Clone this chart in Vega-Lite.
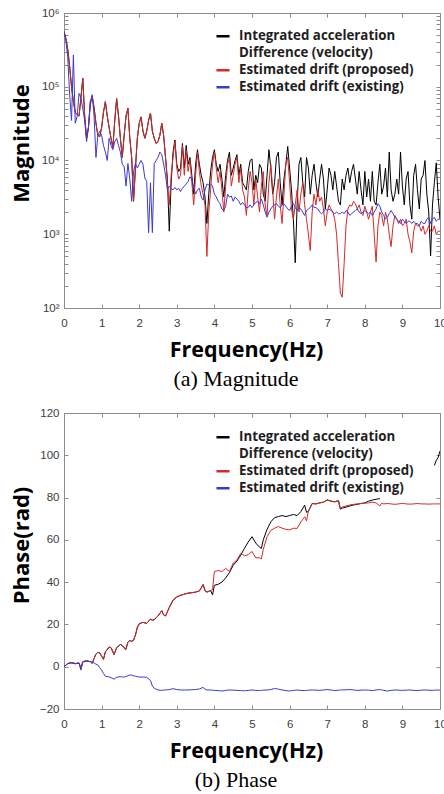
{
  "$schema": "https://vega.github.io/schema/vega-lite/v6.json",
  "padding": {"left": 9, "top": 6, "right": 0, "bottom": 0},
  "bounds": "flush",
  "spacing": 105,
  "config": {
    "view": {"stroke": "#8c8c8c"},
    "axis": {"grid": false, "domain": false, "labelFlush": false, "tickColor": "#8c8c8c", "tickSize": -4, "labelFont": "Liberation Sans", "labelFontSize": 11.5, "labelColor": "#3c3c3c", "titleFont": "Open Sans", "titleFontSize": 21.5, "titleFontWeight": "bold", "titleColor": "#000000"},
    "title": {"font": "Liberation Serif", "fontSize": 22, "fontWeight": "normal", "color": "#000000", "orient": "bottom", "anchor": "middle", "offset": 8, "dx": -16}
  },
  "resolve": {"scale": {"color": "independent"}, "legend": {"color": "independent"}},
  "vconcat": [
    {
      "width": 376,
      "height": 295,
      "title": {"text": "(a) Magnitude"},
      "data": {"values": [
        {"f":0,"a":5.6e5,"r":5.6e5,"b":5.6e5},
        {"f":0.05,"a":4.5e5,"r":4.5e5,"b":4.2e5},
        {"f":0.1,"a":3.2e5,"r":3.2e5,"b":2.5e5},
        {"f":0.15,"a":1.9e5,"r":1.9e5,"b":7.9e4},
        {"f":0.2,"a":1e5,"r":1e5,"b":3.5e4},
        {"f":0.25,"a":6.3e4,"r":6.3e4,"b":2.7e5},
        {"f":0.3,"a":4.5e4,"r":4.5e4,"b":3.2e4},
        {"f":0.35,"a":4.2e4,"r":4.2e4,"b":4e4},
        {"f":0.4,"a":4e4,"r":4e4,"b":8.1e4},
        {"f":0.45,"a":7.1e4,"r":7.1e4,"b":7.1e4},
        {"f":0.5,"a":1.3e5,"r":1.3e5,"b":5e4},
        {"f":0.55,"a":4e4,"r":4e4,"b":3.5e4},
        {"f":0.6,"a":2e4,"r":2e4,"b":1.8e4},
        {"f":0.65,"a":2.8e4,"r":2.8e4,"b":2.8e4},
        {"f":0.7,"a":6.3e4,"r":6.3e4,"b":5.6e4},
        {"f":0.75,"a":7.4e4,"r":7.4e4,"b":7.8e4},
        {"f":0.8,"a":5.2e4,"r":5.2e4,"b":4e4},
        {"f":0.85,"a":3.2e4,"r":3.2e4,"b":1.1e4},
        {"f":0.9,"a":2.2e4,"r":2.2e4,"b":2.2e4},
        {"f":0.95,"a":2.1e4,"r":2.1e4,"b":2.5e4},
        {"f":1,"a":2.8e4,"r":2.8e4,"b":2.2e4},
        {"f":1.05,"a":4.5e4,"r":4.5e4,"b":1.6e4},
        {"f":1.1,"a":6.3e4,"r":6.3e4,"b":1.3e4},
        {"f":1.15,"a":4e4,"r":4e4,"b":1e4},
        {"f":1.2,"a":2.8e4,"r":2.8e4,"b":2e4},
        {"f":1.25,"a":2e4,"r":2e4,"b":1.6e4},
        {"f":1.3,"a":1.5e4,"r":1.5e4,"b":1.4e4},
        {"f":1.35,"a":3.5e4,"r":3.5e4,"b":1.8e4},
        {"f":1.4,"a":6.9e4,"r":6.9e4,"b":2e4},
        {"f":1.45,"a":4e4,"r":4e4,"b":1.6e4},
        {"f":1.5,"a":2e4,"r":2e4,"b":1.3e4},
        {"f":1.55,"a":1.1e4,"r":1.1e4,"b":8.9e3},
        {"f":1.6,"a":2.2e4,"r":2.2e4,"b":8.3e3},
        {"f":1.65,"a":4e4,"r":4e4,"b":4.5e3},
        {"f":1.7,"a":5.1e4,"r":5.1e4,"b":9.1e3},
        {"f":1.75,"a":2e4,"r":2e4,"b":5.6e3},
        {"f":1.8,"a":1.1e4,"r":1.1e4,"b":2.8e3},
        {"f":1.85,"a":2.8e3,"r":2.8e3,"b":7.1e3},
        {"f":1.9,"a":7.9e3,"r":7.9e3,"b":9.1e3},
        {"f":1.95,"a":2e4,"r":2e4,"b":7.9e3},
        {"f":2,"a":3.2e4,"r":3.2e4,"b":8.9e3},
        {"f":2.05,"a":3.9e4,"r":3.9e4,"b":1e4},
        {"f":2.1,"a":2.5e4,"r":2.5e4,"b":8.9e3},
        {"f":2.15,"a":2e4,"r":2e4,"b":5.8e3},
        {"f":2.2,"a":2.5e4,"r":2.5e4,"b":5.2e3},
        {"f":2.25,"a":3.5e4,"r":3.5e4,"b":1.05e3},
        {"f":2.3,"a":4.4e4,"r":4.4e4,"b":5e3},
        {"f":2.35,"a":2.5e4,"r":2.5e4,"b":1.05e3},
        {"f":2.4,"a":2e4,"r":2e4,"b":9.1e3},
        {"f":2.45,"a":1.7e4,"r":1.7e4,"b":1e4},
        {"f":2.5,"a":1.8e4,"r":1.8e4,"b":1.1e4},
        {"f":2.55,"a":2.2e4,"r":2.2e4,"b":1.3e4},
        {"f":2.6,"a":3.2e4,"r":3.2e4,"b":1.2e4},
        {"f":2.65,"a":2.2e4,"r":2.2e4,"b":8.9e3},
        {"f":2.7,"a":1.1e4,"r":1.1e4,"b":6.3e3},
        {"f":2.75,"a":5.6e3,"r":4.9e3,"b":4e3},
        {"f":2.8,"a":1.1e3,"r":2.5e3,"b":4.5e3},
        {"f":2.85,"a":5e3,"r":6.3e3,"b":4.2e3},
        {"f":2.9,"a":1.3e4,"r":1.1e4,"b":4e3},
        {"f":2.95,"a":1.9e4,"r":1.8e4,"b":4.3e3},
        {"f":3,"a":8.9e3,"r":7.9e3,"b":4e3},
        {"f":3.05,"a":7.1e3,"r":5.6e3,"b":4.2e3},
        {"f":3.1,"a":7.9e3,"r":6.3e3,"b":3.8e3},
        {"f":3.15,"a":1.7e4,"r":1.6e4,"b":4.2e3},
        {"f":3.2,"a":7.9e3,"r":6.3e3,"b":4.5e3},
        {"f":3.25,"a":1.6e4,"r":1.4e4,"b":4.8e3},
        {"f":3.3,"a":8.9e3,"r":7.1e3,"b":5.2e3},
        {"f":3.35,"a":1.1e4,"r":1e4,"b":6e3},
        {"f":3.4,"a":6.3e3,"r":5e3,"b":5.6e3},
        {"f":3.45,"a":3.5e3,"r":2.5e3,"b":4.2e3},
        {"f":3.5,"a":8.9e3,"r":6.3e3,"b":3.5e3},
        {"f":3.55,"a":1.4e4,"r":1.3e4,"b":4e3},
        {"f":3.6,"a":8.9e3,"r":7.1e3,"b":4.2e3},
        {"f":3.65,"a":6.3e3,"r":4.5e3,"b":3.2e3},
        {"f":3.7,"a":5e3,"r":3.5e3,"b":2.9e3},
        {"f":3.75,"a":3.2e3,"r":2.5e3,"b":4e3},
        {"f":3.8,"a":1.4e3,"r":5e2,"b":4.8e3},
        {"f":3.85,"a":3.5e3,"r":2e3,"b":4.7e3},
        {"f":3.9,"a":7.1e3,"r":4e3,"b":4.8e3},
        {"f":3.95,"a":1.1e4,"r":8.9e3,"b":4.5e3},
        {"f":4,"a":1.4e4,"r":1.3e4,"b":3.5e3},
        {"f":4.05,"a":8.9e3,"r":7.9e3,"b":3.2e3},
        {"f":4.1,"a":7.1e3,"r":5e3,"b":2.8e3},
        {"f":4.15,"a":8.9e3,"r":7.1e3,"b":2.6e3},
        {"f":4.2,"a":5.6e3,"r":4e3,"b":2.2e3},
        {"f":4.25,"a":3.2e3,"r":2e3,"b":2.1e3},
        {"f":4.3,"a":6.3e3,"r":4.5e3,"b":2.4e3},
        {"f":4.35,"a":1e4,"r":8.9e3,"b":3.5e3},
        {"f":4.4,"a":1.3e4,"r":1.1e4,"b":3.2e3},
        {"f":4.45,"a":6.3e3,"r":4.5e3,"b":3.3e3},
        {"f":4.5,"a":7.9e3,"r":6.3e3,"b":2.8e3},
        {"f":4.55,"a":1e4,"r":8.9e3,"b":3.2e3},
        {"f":4.6,"a":1.2e4,"r":1.1e4,"b":3e3},
        {"f":4.65,"a":6.3e3,"r":5e3,"b":2.8e3},
        {"f":4.7,"a":8.9e3,"r":7.9e3,"b":2.5e3},
        {"f":4.75,"a":5e3,"r":4e3,"b":2.7e3},
        {"f":4.8,"a":4.5e3,"r":3.2e3,"b":2.5e3},
        {"f":4.85,"a":4e3,"r":1.8e3,"b":2.3e3},
        {"f":4.9,"a":7.1e3,"r":4e3,"b":2.3e3},
        {"f":4.95,"a":1e4,"r":7.1e3,"b":2.5e3},
        {"f":5,"a":1.05e4,"r":5e3,"b":2.3e3},
        {"f":5.05,"a":4e3,"r":2.5e3,"b":2.5e3},
        {"f":5.1,"a":6.3e3,"r":5.6e3,"b":2.7e3},
        {"f":5.15,"a":5e3,"r":3.2e3,"b":2.8e3},
        {"f":5.2,"a":8.9e3,"r":2e3,"b":2.6e3},
        {"f":5.25,"a":7.9e3,"r":4.5e3,"b":3e3},
        {"f":5.3,"a":3.5e3,"r":7.1e3,"b":2.5e3},
        {"f":5.35,"a":2.8e3,"r":2.5e3,"b":2e3},
        {"f":5.4,"a":6.3e3,"r":1.8e3,"b":1.7e3},
        {"f":5.45,"a":1.4e4,"r":5e3,"b":2e3},
        {"f":5.5,"a":7.9e3,"r":8.9e3,"b":2.2e3},
        {"f":5.55,"a":3.5e3,"r":4e3,"b":2.4e3},
        {"f":5.6,"a":5e3,"r":1.6e3,"b":2.5e3},
        {"f":5.65,"a":1.1e4,"r":3.2e3,"b":2.6e3},
        {"f":5.7,"a":1.3e4,"r":5.6e3,"b":2.4e3},
        {"f":5.75,"a":5e3,"r":2.5e3,"b":2.3e3},
        {"f":5.8,"a":2.5e3,"r":1.4e3,"b":2.5e3},
        {"f":5.85,"a":5.6e3,"r":3.5e3,"b":2.6e3},
        {"f":5.9,"a":8.9e3,"r":8.9e3,"b":2.4e3},
        {"f":5.95,"a":1.55e4,"r":1.1e4,"b":2.2e3},
        {"f":6,"a":7.9e3,"r":5e3,"b":2.1e3},
        {"f":6.05,"a":4e3,"r":2.2e3,"b":2.4e3},
        {"f":6.1,"a":1.6e3,"r":1.6e3,"b":2.6e3},
        {"f":6.15,"a":4.1e2,"r":2.5e3,"b":2.3e3},
        {"f":6.2,"a":2.5e3,"r":4e3,"b":2.1e3},
        {"f":6.25,"a":8.9e3,"r":2e3,"b":2.3e3},
        {"f":6.3,"a":1.1e4,"r":3.5e3,"b":2.2e3},
        {"f":6.35,"a":5e3,"r":5e3,"b":2e3},
        {"f":6.4,"a":3.2e3,"r":2.5e3,"b":1.8e3},
        {"f":6.45,"a":1.1e4,"r":1.6e3,"b":2.1e3},
        {"f":6.5,"a":7.9e3,"r":1e3,"b":2.2e3},
        {"f":6.55,"a":3.5e3,"r":6e2,"b":2.3e3},
        {"f":6.6,"a":6.3e3,"r":2e3,"b":2.5e3},
        {"f":6.65,"a":8.9e3,"r":3.5e3,"b":2.3e3},
        {"f":6.7,"a":5e3,"r":2.5e3,"b":2.3e3},
        {"f":6.75,"a":3.2e3,"r":4e3,"b":2.2e3},
        {"f":6.8,"a":5.6e3,"r":2.8e3,"b":2e3},
        {"f":6.85,"a":8.9e3,"r":3.2e3,"b":1.9e3},
        {"f":6.9,"a":5.6e3,"r":2.2e3,"b":2e3},
        {"f":6.95,"a":2.2e3,"r":1.3e3,"b":2.2e3},
        {"f":7,"a":4e3,"r":2e3,"b":2.1e3},
        {"f":7.05,"a":7.9e3,"r":2.5e3,"b":2.2e3},
        {"f":7.1,"a":6.3e3,"r":2.2e3,"b":2.1e3},
        {"f":7.15,"a":4e3,"r":2e3,"b":2e3},
        {"f":7.2,"a":7.1e3,"r":1.6e3,"b":1.9e3},
        {"f":7.25,"a":4.5e3,"r":1e3,"b":2e3},
        {"f":7.3,"a":2.8e3,"r":4e2,"b":1.9e3},
        {"f":7.35,"a":2.5e3,"r":1.6e2,"b":1.9e3},
        {"f":7.4,"a":5.6e3,"r":1.4e2,"b":2e3},
        {"f":7.45,"a":4e3,"r":4e2,"b":1.9e3},
        {"f":7.5,"a":6.3e3,"r":1.3e3,"b":2.1e3},
        {"f":7.55,"a":7.9e3,"r":2.2e3,"b":2e3},
        {"f":7.6,"a":5e3,"r":2.5e3,"b":1.8e3},
        {"f":7.65,"a":7.1e3,"r":2.4e3,"b":1.9e3},
        {"f":7.7,"a":8.9e3,"r":2.8e3,"b":2e3},
        {"f":7.75,"a":5.6e3,"r":2.6e3,"b":2.1e3},
        {"f":7.8,"a":3.5e3,"r":2.2e3,"b":2.2e3},
        {"f":7.85,"a":7.1e3,"r":2.5e3,"b":2e3},
        {"f":7.9,"a":4e3,"r":2e3,"b":1.9e3},
        {"f":7.95,"a":2.5e3,"r":1.8e3,"b":2e3},
        {"f":8,"a":7.1e3,"r":2.4e3,"b":2.1e3},
        {"f":8.05,"a":3.2e3,"r":2e3,"b":2e3},
        {"f":8.1,"a":5.6e3,"r":1.6e3,"b":1.9e3},
        {"f":8.15,"a":2.8e3,"r":2e3,"b":2e3},
        {"f":8.2,"a":7.1e3,"r":2.4e3,"b":1.8e3},
        {"f":8.25,"a":2.8e3,"r":1e3,"b":2e3},
        {"f":8.3,"a":2.5e3,"r":4.2e2,"b":2.2e3},
        {"f":8.35,"a":5e3,"r":1.3e3,"b":2.6e3},
        {"f":8.4,"a":8.9e3,"r":2e3,"b":2.4e3},
        {"f":8.45,"a":3.5e3,"r":1.8e3,"b":2e3},
        {"f":8.5,"a":4.5e3,"r":1.3e3,"b":1.8e3},
        {"f":8.55,"a":7.9e3,"r":2e3,"b":1.6e3},
        {"f":8.6,"a":3.2e3,"r":1.6e3,"b":1.7e3},
        {"f":8.65,"a":1.3e4,"r":1e3,"b":1.9e3},
        {"f":8.7,"a":4e3,"r":6.8e2,"b":2.1e3},
        {"f":8.75,"a":2.8e3,"r":1.3e3,"b":1.9e3},
        {"f":8.8,"a":3.5e3,"r":1.8e3,"b":1.7e3},
        {"f":8.85,"a":5.6e3,"r":1.6e3,"b":1.6e3},
        {"f":8.9,"a":3.5e3,"r":1.4e3,"b":1.5e3},
        {"f":8.95,"a":1.3e4,"r":1.6e3,"b":1.4e3},
        {"f":9,"a":4.5e3,"r":1.3e3,"b":1.6e3},
        {"f":9.05,"a":2.5e3,"r":1.4e3,"b":1.5e3},
        {"f":9.1,"a":5.6e3,"r":1.6e3,"b":1.4e3},
        {"f":9.15,"a":7.1e3,"r":1e3,"b":1.5e3},
        {"f":9.2,"a":2.5e3,"r":7.9e2,"b":1.5e3},
        {"f":9.25,"a":1.6e3,"r":5.6e2,"b":1.4e3},
        {"f":9.3,"a":6.3e3,"r":1.1e3,"b":1.5e3},
        {"f":9.35,"a":8.9e3,"r":1.4e3,"b":1.4e3},
        {"f":9.4,"a":4e3,"r":1.3e3,"b":1.4e3},
        {"f":9.45,"a":2.2e3,"r":1.3e3,"b":1.3e3},
        {"f":9.5,"a":5.6e3,"r":1.1e3,"b":1.5e3},
        {"f":9.55,"a":6.3e3,"r":1.3e3,"b":1.4e3},
        {"f":9.6,"a":1e4,"r":1e3,"b":1.4e3},
        {"f":9.65,"a":3.5e3,"r":1.1e3,"b":1.6e3},
        {"f":9.7,"a":2e3,"r":1.3e3,"b":1.7e3},
        {"f":9.75,"a":5.1e2,"r":1.1e3,"b":1.4e3},
        {"f":9.8,"a":2.5e3,"r":1.1e3,"b":1.6e3},
        {"f":9.85,"a":5e3,"r":1.3e3,"b":1.7e3},
        {"f":9.9,"a":9.3e3,"r":1e3,"b":1.5e3},
        {"f":9.95,"a":3.2e3,"r":1.1e3,"b":1.6e3},
        {"f":10,"a":1.6e3,"r":1.1e3,"b":1.6e3}
      ]},
      "transform": [{"fold": ["a", "r", "b"], "as": ["s", "m"]}],
      "layer": [
        {
          "mark": {"type": "line", "strokeWidth": 1, "clip": true},
          "encoding": {
            "x": {"field": "f", "type": "quantitative", "scale": {"domain": [0, 10], "nice": false},
                  "axis": {"values": [0,1,2,3,4,5,6,7,8,9,10], "format": "d", "labelPadding": 13, "title": "Frequency(Hz)", "titleX": 182, "titleY": 42, "titleBaseline": "middle"}},
            "y": {"field": "m", "type": "quantitative", "scale": {"type": "log", "domain": [100, 1000000], "nice": false},
                  "axis": {"values": [100,200,300,400,500,600,700,800,900,1000,2000,3000,4000,5000,6000,7000,8000,9000,10000,20000,30000,40000,50000,60000,70000,80000,90000,100000,200000,300000,400000,500000,600000,700000,800000,900000,1000000],
                           "labelExpr": "datum.value == 1000000 ? '10⁶' : datum.value == 100000 ? '10⁵' : datum.value == 10000 ? '10⁴' : datum.value == 1000 ? '10³' : datum.value == 100 ? '10²' : ''",
                           "labelOverlap": false, "labelPadding": 9, "title": "Magnitude", "titleFontSize": 22, "titleX": -43, "titleY": 130, "titleBaseline": "middle"}},
            "color": {"field": "s", "type": "nominal",
                      "scale": {"domain": ["a", "d", "r", "b"], "range": ["#000000", "transparent", "#d42a2a", "#3a3ad0"]},
                      "legend": {"title": null, "orient": "none", "legendX": 151, "legendY": 15, "padding": 0,
                                 "symbolType": "stroke", "symbolStrokeWidth": 2.5, "symbolSize": 170, "labelOffset": 8, "labelLimit": 300,
                                 "labelFont": "Open Sans", "labelFontSize": 13.3, "labelFontWeight": "bold", "labelColor": "#1e1e1e", "rowPadding": 0, "clipHeight": 16.7,
                                 "labelExpr": "datum.label == 'a' ? 'Integrated acceleration' : datum.label == 'd' ? 'Difference (velocity)' : datum.label == 'r' ? 'Estimated drift (proposed)' : 'Estimated drift (existing)'",
                                 "encode": {"symbols": {"update": {"stroke": {"signal": "datum.value === 'b' ? '#2a78bc' : datum.value === 'r' ? '#d42a2a' : datum.value === 'a' ? '#000000' : 'transparent'"}}}}}}
          }
        },
        {
          "mark": {"type": "line", "opacity": 0},
          "encoding": {
            "x": {"field": "f", "type": "quantitative", "axis": {"orient": "top", "values": [0,1,2,3,4,5,6,7,8,9,10], "labels": false, "title": null}},
            "y": {"field": "m", "type": "quantitative", "axis": {"orient": "right", "values": [100,200,300,400,500,600,700,800,900,1000,2000,3000,4000,5000,6000,7000,8000,9000,10000,20000,30000,40000,50000,60000,70000,80000,90000,100000,200000,300000,400000,500000,600000,700000,800000,900000,1000000], "labels": false, "title": null}}
          }
        }
      ],
      "resolve": {"axis": {"x": "independent", "y": "independent"}}
    },
    {
      "width": 376,
      "height": 296,
      "title": {"text": "(b) Phase"},
      "data": {"values": [
        {"f":0,"a":0,"r":0,"b":0},
        {"f":0.1,"a":1.5,"r":1.5,"b":1.5},
        {"f":0.2,"a":1.8,"r":1.8,"b":2},
        {"f":0.3,"a":1.4,"r":1.4,"b":1.6},
        {"f":0.4,"a":1.8,"r":1.8,"b":1.6},
        {"f":0.45,"a":-0.8,"r":-0.8,"b":-1.6},
        {"f":0.5,"a":2.4,"r":2.4,"b":2.2},
        {"f":0.6,"a":2.8,"r":2.8,"b":2.6},
        {"f":0.7,"a":2.4,"r":2.4,"b":2.4},
        {"f":0.75,"a":1.6,"r":1.6,"b":2.2},
        {"f":0.8,"a":3.9,"r":3.9,"b":1.8},
        {"f":0.85,"a":6,"r":6,"b":1.2},
        {"f":0.9,"a":6.8,"r":6.8,"b":0.8},
        {"f":0.95,"a":6.5,"r":6.5,"b":-0.5},
        {"f":1,"a":5,"r":5,"b":-1.6},
        {"f":1.05,"a":3.5,"r":3.5,"b":-3.2},
        {"f":1.1,"a":7,"r":7,"b":-4.5},
        {"f":1.2,"a":9.3,"r":9.3,"b":-4.8},
        {"f":1.25,"a":9,"r":9,"b":-5.2},
        {"f":1.3,"a":7,"r":7,"b":-5.6},
        {"f":1.33,"a":5.7,"r":5.7,"b":-5.9},
        {"f":1.4,"a":9,"r":9,"b":-5},
        {"f":1.5,"a":10.5,"r":10.5,"b":-4.7},
        {"f":1.55,"a":10,"r":10,"b":-4.8},
        {"f":1.6,"a":9,"r":9,"b":-4.9},
        {"f":1.64,"a":8,"r":8,"b":-4.7},
        {"f":1.7,"a":11.5,"r":11.5,"b":-4.3},
        {"f":1.75,"a":12.4,"r":12.4,"b":-3.9},
        {"f":1.8,"a":12,"r":12,"b":-4},
        {"f":1.85,"a":12.5,"r":12.5,"b":-4.3},
        {"f":1.9,"a":15,"r":15,"b":-4.5},
        {"f":1.95,"a":18.5,"r":18.5,"b":-4.7},
        {"f":2,"a":20.3,"r":20.3,"b":-4.9},
        {"f":2.1,"a":21,"r":21,"b":-4.9},
        {"f":2.2,"a":20.5,"r":20.5,"b":-5},
        {"f":2.3,"a":22.5,"r":22.5,"b":-6.5},
        {"f":2.35,"a":22,"r":22,"b":-9.1},
        {"f":2.4,"a":22.3,"r":22.3,"b":-10.2},
        {"f":2.5,"a":24,"r":24,"b":-11},
        {"f":2.6,"a":26.5,"r":26.5,"b":-11.2},
        {"f":2.65,"a":24.5,"r":24.5,"b":-11},
        {"f":2.7,"a":24,"r":24,"b":-11},
        {"f":2.8,"a":28,"r":28,"b":-10.8},
        {"f":2.9,"a":31.5,"r":31.5,"b":-10.4},
        {"f":3,"a":33,"r":33,"b":-10.8},
        {"f":3.1,"a":33.8,"r":33.8,"b":-11},
        {"f":3.2,"a":34.3,"r":34.3,"b":-11},
        {"f":3.3,"a":34.8,"r":34.8,"b":-11},
        {"f":3.4,"a":35,"r":35,"b":-10.9},
        {"f":3.5,"a":35.3,"r":35.3,"b":-10.8},
        {"f":3.6,"a":35.8,"r":35.8,"b":-10.5},
        {"f":3.7,"a":38.9,"r":38.9,"b":-9.8},
        {"f":3.75,"a":36,"r":36,"b":-10.6},
        {"f":3.8,"a":35.3,"r":35.3,"b":-11},
        {"f":3.9,"a":36,"r":36,"b":-11},
        {"f":3.95,"a":34,"r":36.5,"b":-11.1},
        {"f":4,"a":38.5,"r":45,"b":-11.2},
        {"f":4.1,"a":39,"r":45.5,"b":-11.3},
        {"f":4.2,"a":40,"r":45,"b":-11.5},
        {"f":4.3,"a":42,"r":46.5,"b":-11.2},
        {"f":4.4,"a":44.5,"r":45,"b":-11},
        {"f":4.5,"a":48,"r":49,"b":-11.1},
        {"f":4.6,"a":50,"r":50.5,"b":-11.2},
        {"f":4.7,"a":52.8,"r":53.6,"b":-11.3},
        {"f":4.8,"a":56,"r":52.5,"b":-11.4},
        {"f":4.9,"a":59,"r":53,"b":-11.2},
        {"f":5,"a":61.5,"r":54.5,"b":-11},
        {"f":5.1,"a":58.5,"r":51.5,"b":-11.2},
        {"f":5.2,"a":56.5,"r":51.5,"b":-11.3},
        {"f":5.25,"a":56,"r":51,"b":-11.2},
        {"f":5.3,"a":60,"r":55.5,"b":-11.1},
        {"f":5.4,"a":65,"r":61.5,"b":-11},
        {"f":5.5,"a":68.5,"r":64.5,"b":-10.8},
        {"f":5.6,"a":70.5,"r":65.5,"b":-10.3},
        {"f":5.7,"a":71,"r":66.3,"b":-10.6},
        {"f":5.8,"a":71.5,"r":65.5,"b":-11},
        {"f":5.9,"a":71,"r":65,"b":-11.3},
        {"f":6,"a":71.5,"r":64.7,"b":-11.5},
        {"f":6.1,"a":72,"r":65.5,"b":-11.2},
        {"f":6.2,"a":71.5,"r":65.4,"b":-11},
        {"f":6.3,"a":73.4,"r":68.5,"b":-11.2},
        {"f":6.4,"a":76.4,"r":70.9,"b":-11.3},
        {"f":6.45,"a":73,"r":69,"b":-11.2},
        {"f":6.5,"a":73.5,"r":73.5,"b":-11.1},
        {"f":6.6,"a":77.2,"r":77.2,"b":-11},
        {"f":6.7,"a":77,"r":77,"b":-11.1},
        {"f":6.8,"a":77.5,"r":77.5,"b":-11.2},
        {"f":6.9,"a":77.8,"r":77.8,"b":-11},
        {"f":7,"a":78.9,"r":78.9,"b":-10.8},
        {"f":7.1,"a":78.3,"r":78.3,"b":-11},
        {"f":7.2,"a":78,"r":78,"b":-11.3},
        {"f":7.3,"a":78.5,"r":78.5,"b":-11.1},
        {"f":7.35,"a":74.5,"r":74.8,"b":-11},
        {"f":7.4,"a":75,"r":75.5,"b":-11},
        {"f":7.5,"a":75.5,"r":76,"b":-10.9},
        {"f":7.6,"a":76,"r":76.5,"b":-10.8},
        {"f":7.7,"a":76.5,"r":76.8,"b":-11},
        {"f":7.8,"a":76.8,"r":77,"b":-11.2},
        {"f":7.9,"a":77.2,"r":77.2,"b":-11.1},
        {"f":8,"a":77.5,"r":77.3,"b":-11},
        {"f":8.1,"a":78.3,"r":77.5,"b":-11.1},
        {"f":8.2,"a":78.8,"r":77.8,"b":-11.3},
        {"f":8.3,"a":79.2,"r":77.5,"b":-11},
        {"f":8.4,"a":79.5,"r":76,"b":-10.8},
        {"f":8.45,"a":null,"r":77.3,"b":-11},
        {"f":8.5,"a":null,"r":77,"b":-11.2},
        {"f":8.6,"a":null,"r":77.2,"b":-11.5},
        {"f":8.7,"a":null,"r":77,"b":-11.2},
        {"f":8.8,"a":null,"r":76.8,"b":-11},
        {"f":8.9,"a":null,"r":77,"b":-11.1},
        {"f":9,"a":null,"r":77.3,"b":-11.2},
        {"f":9.1,"a":null,"r":77,"b":-11.1},
        {"f":9.2,"a":null,"r":76.9,"b":-11},
        {"f":9.3,"a":null,"r":77,"b":-11.2},
        {"f":9.4,"a":null,"r":77.2,"b":-11.3},
        {"f":9.5,"a":null,"r":77,"b":-11.1},
        {"f":9.6,"a":null,"r":77,"b":-11},
        {"f":9.7,"a":null,"r":76.9,"b":-11.1},
        {"f":9.8,"a":null,"r":77,"b":-11.2},
        {"f":9.85,"a":95.2,"r":77,"b":-11.1},
        {"f":9.9,"a":97.5,"r":77,"b":-11},
        {"f":9.95,"a":99,"r":77,"b":-11.1},
        {"f":10,"a":102,"r":77,"b":-11}
      ]},
      "transform": [{"fold": ["a", "r", "b"], "as": ["s", "p"]}],
      "layer": [
        {
          "mark": {"type": "line", "strokeWidth": 1, "clip": true, "invalid": "break-paths-show-domains"},
          "encoding": {
            "x": {"field": "f", "type": "quantitative", "scale": {"domain": [0, 10], "nice": false},
                  "axis": {"values": [0,1,2,3,4,5,6,7,8,9,10], "format": "d", "labelPadding": 13, "title": "Frequency(Hz)", "titleX": 182, "titleY": 42, "titleBaseline": "middle"}},
            "y": {"field": "p", "type": "quantitative", "scale": {"domain": [-20, 120], "nice": false},
                  "axis": {"values": [-20,0,20,40,60,80,100,120], "labelPadding": 9, "title": "Phase(rad)", "titleFontSize": 22, "titleX": -43, "titleY": 132, "titleBaseline": "middle"}},
            "color": {"field": "s", "type": "nominal",
                      "scale": {"domain": ["a", "d", "r", "b"], "range": ["#000000", "transparent", "#d42a2a", "#3a3ad0"]},
                      "legend": {"title": null, "orient": "none", "legendX": 151, "legendY": 16, "padding": 0,
                                 "symbolType": "stroke", "symbolStrokeWidth": 2.5, "symbolSize": 170, "labelOffset": 8, "labelLimit": 300,
                                 "labelFont": "Open Sans", "labelFontSize": 13.3, "labelFontWeight": "bold", "labelColor": "#1e1e1e", "rowPadding": 0, "clipHeight": 16.7,
                                 "labelExpr": "datum.label == 'a' ? 'Integrated acceleration' : datum.label == 'd' ? 'Difference (velocity)' : datum.label == 'r' ? 'Estimated drift (proposed)' : 'Estimated drift (existing)'",
                                 "encode": {"symbols": {"update": {"stroke": {"signal": "datum.value === 'b' ? '#2a78bc' : datum.value === 'r' ? '#d42a2a' : datum.value === 'a' ? '#000000' : 'transparent'"}}}}}}
          }
        },
        {
          "mark": {"type": "line", "opacity": 0},
          "encoding": {
            "x": {"field": "f", "type": "quantitative", "axis": {"orient": "top", "values": [0,1,2,3,4,5,6,7,8,9,10], "labels": false, "title": null}},
            "y": {"field": "p", "type": "quantitative", "axis": {"orient": "right", "values": [-20,0,20,40,60,80,100,120], "labels": false, "title": null}}
          }
        }
      ],
      "resolve": {"axis": {"x": "independent", "y": "independent"}}
    }
  ]
}
